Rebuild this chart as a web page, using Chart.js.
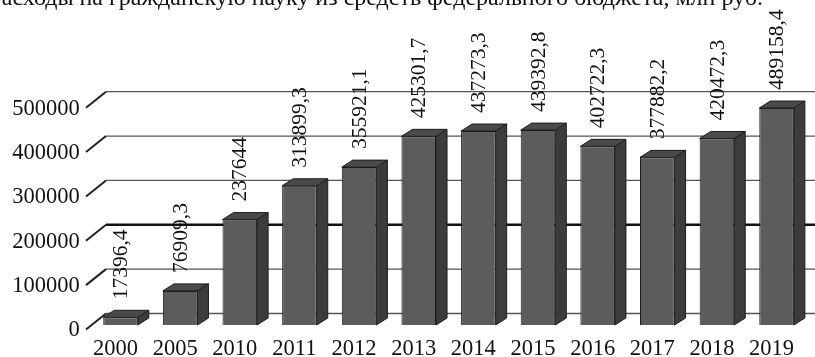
<!DOCTYPE html>
<html>
<head>
<meta charset="utf-8">
<script src="https://cdn.jsdelivr.net/npm/chart.js@4/dist/chart.umd.min.js"></script>
<style>
  html, body { margin: 0; padding: 0; background: #fff; overflow: hidden; }
</style>
</head>
<body>
<canvas id="c" width="815" height="357"></canvas>
<script>
// Расходы на гражданскую науку из средств федерального бюджета, млн руб.
const chartTitle = 'Расходы на гражданскую науку из средств федерального бюджета, млн руб.';
const years = ['2000', '2005', '2010', '2011', '2012', '2013', '2014', '2015', '2016', '2017', '2018', '2019'];
const spending = [17396.4, 76909.3, 237644, 313899.3, 355921.1, 425301.7, 437273.3, 439392.8, 402722.3, 377882.2, 420472.3, 489158.4];
const yTicks = [0, 100000, 200000, 300000, 400000, 500000];

const FONT_FAMILY = '"Liberation Serif", "Times New Roman", serif';
const TEXT_COLOR = '#111';
const BAR_DX = 11, BAR_DY = 7;     // depth of each bar block
const WALL_SHIFT = 11.5;           // back wall lies above the front plane
const STUB_DX = 20, STUB_DY = 16;  // slanted floor/wall joints at the left

// Russian decimal comma for the value captions
const fmt = v => String(v).replace('.', ',');

const pseudo3d = {
  id: 'pseudo3d',
  beforeDraw(chart) {
    const { ctx } = chart;
    ctx.save();
    ctx.font = '24px ' + FONT_FAMILY;
    ctx.fillStyle = TEXT_COLOR;
    ctx.textAlign = 'right';
    ctx.textBaseline = 'alphabetic';
    ctx.fillText(chartTitle, 763, 5);
    ctx.restore();
  },
  beforeDatasetsDraw(chart) {
    const { ctx, chartArea, scales: { y } } = chart;
    const gx = chartArea.left + 15.3;
    ctx.save();
    yTicks.forEach(v => {
      const yb = y.getPixelForValue(v) - WALL_SHIFT;
      const heavy = v === 200000;
      ctx.strokeStyle = heavy ? '#111' : '#555';
      ctx.lineWidth = heavy ? 2.6 : 1.3;
      ctx.beginPath();
      ctx.moveTo(gx, yb);
      ctx.lineTo(chart.width, yb);
      ctx.stroke();
      ctx.strokeStyle = '#222';
      ctx.lineWidth = 2;
      ctx.beginPath();
      ctx.moveTo(gx - STUB_DX, yb + STUB_DY);
      ctx.lineTo(gx, yb);
      ctx.stroke();
    });
    ctx.restore();
  },
  afterDatasetsDraw(chart) {
    const { ctx } = chart;
    const meta = chart.getDatasetMeta(0);
    ctx.save();
    meta.data.forEach((bar, i) => {
      const { x, y, base, width } = bar.getProps(['x', 'y', 'base', 'width'], true);
      const x1 = x - width / 2, x2 = x + width / 2;
      ctx.lineWidth = 1;
      ctx.strokeStyle = '#1e1e1e';
      // top face
      ctx.fillStyle = '#4a4a4a';
      ctx.beginPath();
      ctx.moveTo(x1, y);
      ctx.lineTo(x1 + BAR_DX, y - BAR_DY);
      ctx.lineTo(x2 + BAR_DX, y - BAR_DY);
      ctx.lineTo(x2, y);
      ctx.closePath();
      ctx.fill();
      ctx.stroke();
      // side face
      ctx.fillStyle = '#3c3c3c';
      ctx.beginPath();
      ctx.moveTo(x2, y);
      ctx.lineTo(x2 + BAR_DX, y - BAR_DY);
      ctx.lineTo(x2 + BAR_DX, base - BAR_DY);
      ctx.lineTo(x2, base);
      ctx.closePath();
      ctx.fill();
      ctx.stroke();
      // value caption, rotated
      ctx.save();
      ctx.translate(x + 1, y - 18);
      ctx.rotate(-Math.PI / 2);
      ctx.font = '21.5px ' + FONT_FAMILY;
      ctx.fillStyle = TEXT_COLOR;
      ctx.textAlign = 'left';
      ctx.textBaseline = 'middle';
      ctx.fillText(fmt(spending[i]), 0, 0);
      ctx.restore();
    });
    ctx.restore();
  }
};

new Chart(document.getElementById('c'), {
  type: 'bar',
  data: {
    labels: years,
    datasets: [{
      data: spending,
      backgroundColor: '#5c5c5c',
      borderColor: '#1e1e1e',
      borderWidth: 1,
      categoryPercentage: 1,
      barPercentage: 0.58
    }]
  },
  options: {
    responsive: false,
    animation: false,
    layout: { padding: { top: 103.2, right: 8.6, bottom: 0, left: 0 } },
    plugins: { legend: { display: false }, tooltip: { enabled: false }, title: { display: false } },
    scales: {
      x: {
        grid: { display: false, drawTicks: false },
        border: { display: false },
        ticks: {
          font: { family: FONT_FAMILY, size: 22.5 },
          color: TEXT_COLOR,
          padding: 11,
          labelOffset: -5,
          maxRotation: 0,
          autoSkip: false
        },
        afterFit(scale) { scale.height = 32; }
      },
      y: {
        min: 0,
        max: 500000,
        grid: { display: false, drawTicks: false },
        border: { display: false },
        afterBuildTicks(scale) { scale.ticks = yTicks.map(v => ({ value: v })); },
        ticks: {
          font: { family: FONT_FAMILY, size: 22.5 },
          color: TEXT_COLOR,
          padding: 11,
          labelOffset: 5.5,
          callback: v => String(v)
        },
        afterFit(scale) { scale.width = 90.7; }
      }
    }
  },
  plugins: [pseudo3d]
});
</script>
</body>
</html>
